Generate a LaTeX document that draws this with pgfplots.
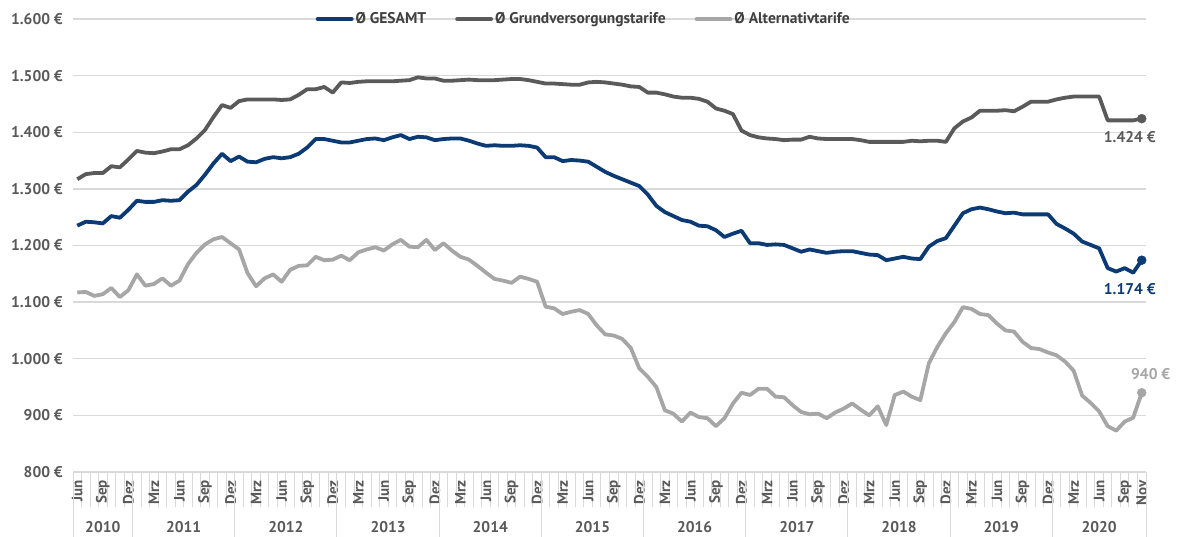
\documentclass[border=0pt]{standalone}
\usepackage{pgfplots}
\pgfplotsset{compat=1.18}
\usepackage{pgfplotstable}
\usepackage{fontspec}
\setmainfont{PT Sans}
\definecolor{cblue}{HTML}{0B3A75}
\definecolor{cdark}{HTML}{5A5A5A}
\definecolor{clight}{HTML}{A6A6A6}
\definecolor{ctxt}{HTML}{595959}
\definecolor{cleg}{HTML}{404040}
\definecolor{cgrid}{HTML}{D9D9D9}

\pgfplotstableread{
i ges grund alt
0 1235 1317 1117
1 1242 1326 1118
2 1241 1328 1111
3 1239 1328 1114
4 1252 1340 1125
5 1249 1338 1109
6 1263 1352 1121
7 1279 1367 1149
8 1277 1364 1129
9 1277 1363 1132
10 1280 1366 1142
11 1279 1370 1129
12 1280 1370 1138
13 1295 1377 1167
14 1307 1389 1187
15 1325 1404 1202
16 1345 1427 1211
17 1362 1448 1215
18 1349 1443 1204
19 1357 1455 1193
20 1348 1458 1151
21 1347 1458 1128
22 1353 1458 1142
23 1356 1458 1149
24 1354 1457 1136
25 1356 1458 1157
26 1362 1466 1164
27 1373 1476 1165
28 1388 1476 1180
29 1388 1480 1174
30 1385 1470 1175
31 1382 1488 1182
32 1382 1487 1174
33 1385 1489 1188
34 1388 1490 1193
35 1389 1490 1197
36 1386 1490 1191
37 1391 1490 1202
38 1395 1491 1210
39 1388 1492 1198
40 1392 1497 1197
41 1391 1495 1210
42 1386 1495 1192
43 1388 1491 1204
44 1389 1491 1191
45 1389 1492 1180
46 1385 1493 1175
47 1380 1492 1164
48 1376 1492 1152
49 1377 1492 1141
50 1376 1493 1138
51 1376 1494 1134
52 1377 1494 1145
53 1376 1492 1141
54 1373 1489 1136
55 1356 1486 1092
56 1356 1486 1089
57 1349 1485 1079
58 1351 1484 1083
59 1350 1484 1086
60 1348 1488 1079
61 1339 1489 1059
62 1330 1488 1043
63 1323 1486 1041
64 1317 1484 1035
65 1311 1481 1019
66 1305 1480 983
67 1290 1470 968
68 1270 1470 950
69 1259 1467 909
70 1252 1463 903
71 1245 1461 889
72 1242 1461 905
73 1235 1459 897
74 1234 1454 895
75 1227 1442 881
76 1215 1438 895
77 1221 1432 921
78 1226 1403 940
79 1204 1395 936
80 1204 1391 947
81 1201 1389 947
82 1202 1388 933
83 1201 1386 932
84 1195 1387 918
85 1189 1387 906
86 1193 1392 902
87 1190 1389 903
88 1187 1388 895
89 1189 1388 905
90 1190 1388 912
91 1190 1388 921
92 1187 1386 910
93 1184 1383 900
94 1183 1383 916
95 1174 1383 883
96 1177 1383 936
97 1180 1383 942
98 1177 1385 933
99 1176 1384 927
100 1198 1385 992
101 1208 1385 1021
102 1213 1383 1045
103 1235 1407 1065
104 1257 1419 1091
105 1264 1426 1088
106 1267 1438 1079
107 1264 1438 1077
108 1260 1438 1062
109 1257 1439 1050
110 1258 1437 1048
111 1255 1445 1030
112 1255 1454 1019
113 1255 1454 1017
114 1255 1454 1011
115 1238 1458 1006
116 1230 1461 995
117 1221 1463 979
118 1207 1463 935
119 1201 1463 922
120 1195 1463 907
121 1160 1421 881
122 1154 1421 873
123 1160 1421 889
124 1152 1421 896
125 1174 1424 940
}\datatab

\newcommand{\lf}{\bfseries\fontsize{15.5}{15.5}\selectfont}
\newcommand{\mf}{\bfseries\fontsize{15}{15}\selectfont}

\begin{document}
\begin{tikzpicture}
\useasboundingbox (0,0) rectangle (1177pt,537pt);
\begin{axis}[
  at={(73pt,65pt)}, anchor=south west,
  width=1073pt, height=453pt, scale only axis,
  xmin=-0.5, xmax=125.5, ymin=800, ymax=1600,
  clip=false,
  axis line style={draw=none},
  ytick={800,900,...,1600},
  yticklabels={800 €,900 €,1.000 €,1.100 €,1.200 €,1.300 €,1.400 €,1.500 €,1.600 €},
  ymajorgrids, grid style={cgrid, line width=1.3pt},
  xtick={0,3,...,123,125},
  xticklabels={Jun,Sep,Dez,Mrz,Jun,Sep,Dez,Mrz,Jun,Sep,Dez,Mrz,Jun,Sep,Dez,Mrz,Jun,Sep,Dez,Mrz,Jun,Sep,Dez,Mrz,Jun,Sep,Dez,Mrz,Jun,Sep,Dez,Mrz,Jun,Sep,Dez,Mrz,Jun,Sep,Dez,Mrz,Jun,Sep,Nov},
  minor xtick={-0.5,0.5,...,125.5},
  extra x ticks={-0.5,6.5,18.5,30.5,42.5,54.5,66.5,78.5,90.5,102.5,114.5,125.5},
  extra x tick labels={},
  extra x tick style={major tick length=66pt},
  tick align=outside,
  xtick pos=bottom, ytick pos=left,
  major tick length=0pt, minor tick length=35pt,
  tick style={cgrid, line width=1pt},
  xticklabel style={yshift=-8pt, rotate=90, anchor=east, inner sep=0pt, font=\mf, text=ctxt},
  yticklabel style={anchor=east, inner sep=0pt, xshift=-10pt, font=\lf, text=ctxt},
  legend columns=3,
  legend style={at={(0.476,1)}, anchor=center, draw=none, fill=none,
    font=\bfseries\fontsize{15.5}{15.5}\selectfont, text=cleg,
    /tikz/every even column/.append style={column sep=27pt},
    nodes={inner sep=2pt}},
  legend image code/.code={\draw[#1, line cap=round] (0pt,0pt) -- (34pt,0pt);},
]
\addplot[cblue, line width=3.8pt, line join=round] table[x=i,y=ges]{\datatab};
\addlegendentry{Ø GESAMT}
\addplot[cdark, line width=3.8pt, line join=round] table[x=i,y=grund]{\datatab};
\addlegendentry{Ø Grundversorgungstarife}
\addplot[clight, line width=3.8pt, line join=round] table[x=i,y=alt]{\datatab};
\addlegendentry{Ø Alternativtarife}
\addplot[cblue, only marks, mark=*, mark size=4.5pt, forget plot] coordinates {(125,1174)};
\addplot[cdark, only marks, mark=*, mark size=4.5pt, forget plot] coordinates {(125,1424)};
\addplot[clight, only marks, mark=*, mark size=4.5pt, forget plot] coordinates {(125,940)};
\node[anchor=north, text=cdark, font=\lf, xshift=-12pt, yshift=-9pt] at (axis cs:125,1424) {1.424 €};
\node[anchor=north, text=cblue, font=\lf, xshift=-12pt, yshift=-20pt] at (axis cs:125,1174) {1.174 €};
\node[anchor=south, text=clight, font=\lf, xshift=9pt, yshift=9pt] at (axis cs:125,940) {940 €};
\node[text=ctxt, font=\lf, yshift=-55pt] at (axis cs:3,800) {2010};
\node[text=ctxt, font=\lf, yshift=-55pt] at (axis cs:12.5,800) {2011};
\node[text=ctxt, font=\lf, yshift=-55pt] at (axis cs:24.5,800) {2012};
\node[text=ctxt, font=\lf, yshift=-55pt] at (axis cs:36.5,800) {2013};
\node[text=ctxt, font=\lf, yshift=-55pt] at (axis cs:48.5,800) {2014};
\node[text=ctxt, font=\lf, yshift=-55pt] at (axis cs:60.5,800) {2015};
\node[text=ctxt, font=\lf, yshift=-55pt] at (axis cs:72.5,800) {2016};
\node[text=ctxt, font=\lf, yshift=-55pt] at (axis cs:84.5,800) {2017};
\node[text=ctxt, font=\lf, yshift=-55pt] at (axis cs:96.5,800) {2018};
\node[text=ctxt, font=\lf, yshift=-55pt] at (axis cs:108.5,800) {2019};
\node[text=ctxt, font=\lf, yshift=-55pt] at (axis cs:120,800) {2020};
\end{axis}
\end{tikzpicture}
\end{document}
